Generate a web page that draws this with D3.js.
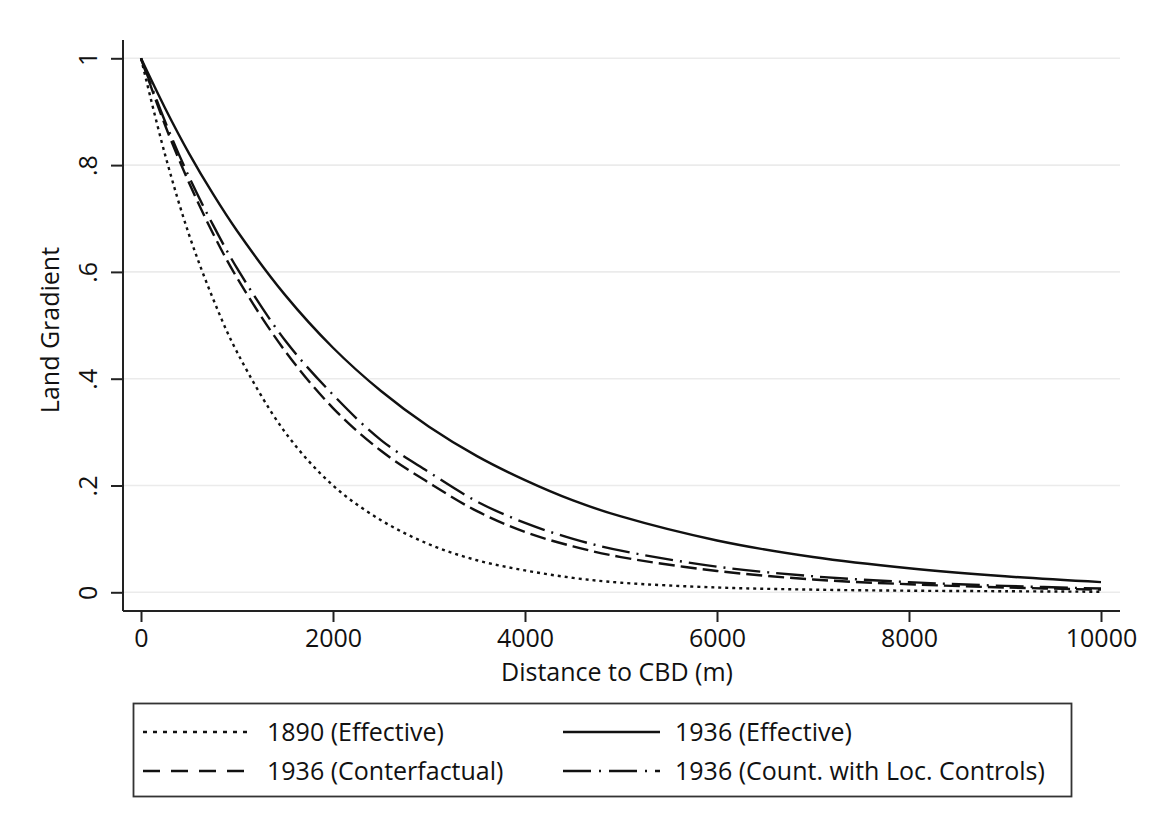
<!DOCTYPE html>
<html>
<head>
<meta charset="utf-8">
<script src="https://cdn.jsdelivr.net/npm/d3@7"></script>
<style>
  body { margin: 0; background: #ffffff; }
  svg text { font-family: "Open Sans", "Noto Sans", sans-serif; fill: #111; }
</style>
</head>
<body>
<div id="chart"></div>
<script>
// values (distance in metres, land gradient)
const distance = [0, 250, 500, 750, 1000, 1500, 2000, 2500, 3000, 3500, 4000, 4500, 5000, 6000, 7000, 8000, 9000, 10000];
const grad_1890_eff = [1, .82, .67, .55, .45, .30, .20, .135, .09, .06, .041, .027, .018, .009, .005, .003, .002, .001];
const grad_1936_eff = [1, .907, .822, .746, .677, .557, .458, .377, .31, .255, .21, .172, .142, .097, .066, .045, .03, .019];
const grad_1936_cf  = [1, .875, .767, .672, .589, .452, .345, .265, .205, .152, .113, .086, .066, .04, .024, .015, .009, .005];
const grad_1936_loc = [1, .882, .778, .688, .607, .472, .37, .285, .225, .17, .13, .10, .078, .048, .03, .019, .012, .007];

const series_names = ["1890 (Effective)", "1936 (Effective)", "1936 (Conterfactual)", "1936 (Count. with Loc. Controls)"];
const x_ticks = [0, 2000, 4000, 6000, 8000, 10000];
const y_ticks = [0, .2, .4, .6, .8, 1];
const y_tick_labels = ["0", ".2", ".4", ".6", ".8", "1"];

function draw_chart(width = 1152, height = 825) {
  const svg = d3.select("#chart").append("svg")
    .attr("width", width)
    .attr("height", height);

  // plot region (stata style: axes a bit outside of the data range)
  const region = {left: 123, right: 1120, top: 40, bottom: 611};

  const x = d3.scaleLinear().domain([0, 10000]).range([141, 1101]);
  const y = d3.scaleLinear().domain([0, 1]).range([592.3, 58.3]);

  // horizontal grid
  svg.append("g").selectAll("line")
    .data(y_ticks)
    .enter()
    .append("line")
    .attr("x1", region.left).attr("x2", region.right)
    .attr("y1", d => y(d)).attr("y2", d => y(d))
    .attr("stroke", "#ebebeb")
    .attr("stroke-width", 1.6);

  // the curves
  const series = [
    {values: grad_1890_eff, dash: "3,4"},
    {values: grad_1936_eff, dash: null},
    {values: grad_1936_cf, dash: "16,6"},
    {values: grad_1936_loc, dash: "28,7,2,7"}
  ];

  const line = d3.line()
    .x((d, i) => x(distance[i]))
    .y(d => y(d))
    .curve(d3.curveCatmullRom.alpha(0.5));

  svg.append("g").selectAll("path")
    .data(series)
    .enter()
    .append("path")
    .attr("d", d => line(d.values))
    .attr("fill", "none")
    .attr("stroke", "#111")
    .attr("stroke-width", 2.4)
    .attr("stroke-dasharray", d => d.dash);

  // y axis
  const yAxis = g => g
    .attr("transform", `translate(${region.left},0)`)
    .call(d3.axisLeft(y).tickValues(y_ticks).tickSize(12).tickPadding(14)
      .tickFormat((d, i) => y_tick_labels[i]));
  const gy = svg.append("g").call(yAxis);
  gy.select(".domain").attr("d", `M0,${region.top}V${region.bottom}`);
  gy.selectAll("text")
    .attr("font-size", 25)
    .attr("text-anchor", "middle")
    .attr("x", null).attr("dy", null)
    .attr("transform", "translate(-26,0) rotate(-90)");

  // x axis
  const xAxis = g => g
    .attr("transform", `translate(0,${region.bottom})`)
    .call(d3.axisBottom(x).tickValues(x_ticks).tickSize(11).tickPadding(7).tickFormat(d3.format("d")));
  const gx = svg.append("g").call(xAxis);
  gx.select(".domain").attr("d", `M${region.left},0H${region.right}`);
  gx.selectAll("text").attr("font-size", 25);

  svg.selectAll(".domain, .tick line").attr("stroke", "#222").attr("stroke-width", 2);

  // axis titles
  svg.append("text")
    .attr("x", 617).attr("y", 681)
    .attr("text-anchor", "middle")
    .attr("font-size", 25)
    .text("Distance to CBD (m)");

  svg.append("text")
    .attr("transform", "translate(59,330) rotate(-90)")
    .attr("text-anchor", "middle")
    .attr("font-size", 25)
    .text("Land Gradient");

  // legend box
  const legend = svg.append("g");
  legend.append("rect")
    .attr("x", 133.5).attr("y", 703.5)
    .attr("width", 938).attr("height", 93)
    .attr("fill", "none")
    .attr("stroke", "#333")
    .attr("stroke-width", 1.8);

  const legend_dash = ["4,6", null, "17,11", "28,8,2,8"];
  const legend_pos = [
    {x1: 143, x2: 247, tx: 267, y: 732},
    {x1: 563, x2: 660, tx: 675, y: 732},
    {x1: 143, x2: 247, tx: 267, y: 771},
    {x1: 563, x2: 660, tx: 675, y: 771}
  ];

  legend.selectAll("line")
    .data(series_names)
    .enter()
    .append("line")
    .attr("x1", (d, i) => legend_pos[i].x1).attr("x2", (d, i) => legend_pos[i].x2)
    .attr("y1", (d, i) => legend_pos[i].y).attr("y2", (d, i) => legend_pos[i].y)
    .attr("stroke", "#111")
    .attr("stroke-width", 2.4)
    .attr("stroke-dasharray", (d, i) => legend_dash[i]);

  legend.selectAll("text")
    .data(series_names)
    .enter()
    .append("text")
    .attr("x", (d, i) => legend_pos[i].tx)
    .attr("y", (d, i) => legend_pos[i].y + 9)
    .attr("font-size", 25)
    .text(d => d);

  return svg.node();
}

draw_chart();
</script>
</body>
</html>
